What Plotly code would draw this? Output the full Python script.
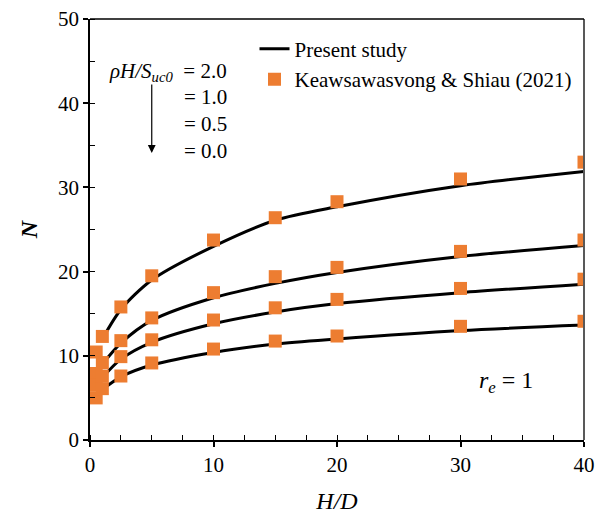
import plotly.graph_objects as go

# Data
x_ref = [0.5, 1, 2.5, 5, 10, 15, 20, 30, 40]
ref_20 = [10.45, 12.3, 15.8, 19.5, 23.75, 26.4, 28.3, 31.0, 33.0]
ref_10 = [7.9, 9.2, 11.8, 14.5, 17.5, 19.4, 20.5, 22.4, 23.75]
ref_05 = [6.5, 7.6, 9.9, 11.9, 14.25, 15.7, 16.7, 18.0, 19.1]
ref_00 = [5.0, 6.1, 7.6, 9.15, 10.8, 11.75, 12.35, 13.5, 14.1]

x_pres = [1, 2.5, 5, 10, 15, 20, 30, 40]
pres_20 = [12.0, 15.5, 19.0, 23.0, 26.1, 27.7, 30.2, 31.9]
pres_10 = [9.0, 11.5, 14.2, 16.9, 18.6, 19.9, 21.8, 23.1]
pres_05 = [7.4, 9.6, 11.6, 13.8, 15.2, 16.2, 17.5, 18.5]
pres_00 = [6.0, 7.5, 8.9, 10.4, 11.4, 12.0, 13.0, 13.65]

FONT = "'Liberation Serif', 'Times New Roman', Times, serif"
ORANGE = "#ED7D31"

fig = go.Figure()
for i, ys in enumerate([pres_20, pres_10, pres_05, pres_00]):
    fig.add_trace(go.Scatter(x=x_pres, y=ys, mode="lines",
                             line=dict(color="black", width=3, shape="spline", smoothing=0.8),
                             name="Present study", showlegend=(i == 0), legendrank=1))
for i, ys in enumerate([ref_20, ref_10, ref_05, ref_00]):
    fig.add_trace(go.Scatter(x=x_ref, y=ys, mode="markers",
                             marker=dict(symbol="square", size=13, color=ORANGE),
                             name="Keawsawasvong & Shiau (2021)", showlegend=(i == 0), legendrank=2))

ann_font = dict(family=FONT, size=21, color="black")
annotations = [
    dict(x=1.38, y=43.7, xref="x", yref="y", xanchor="left", yanchor="middle", showarrow=False,
         text="<i>ρH/S</i><sub><i>uc0</i></sub>  = 2.0", font=ann_font),
    dict(x=7.45, y=40.75, xref="x", yref="y", xanchor="left", yanchor="middle", showarrow=False,
         text="= 1.0", font=ann_font),
    dict(x=7.45, y=37.55, xref="x", yref="y", xanchor="left", yanchor="middle", showarrow=False,
         text="= 0.5", font=ann_font),
    dict(x=7.45, y=34.35, xref="x", yref="y", xanchor="left", yanchor="middle", showarrow=False,
         text="= 0.0", font=ann_font),
    dict(x=5.0, y=34.1, ax=5.0, ay=42.4, xref="x", yref="y", axref="x", ayref="y",
         text="", showarrow=True, arrowhead=2, arrowsize=1.3, arrowwidth=1.2, arrowcolor="black"),
    dict(x=33.7, y=6.9, xref="x", yref="y", showarrow=False,
         text="<i>r</i><sub><i>e</i></sub> = 1", font=dict(family=FONT, size=24, color="black")),
]

fig.update_layout(
    width=604, height=516,
    margin=dict(l=90, r=20, t=19, b=76, autoexpand=False),
    paper_bgcolor="white", plot_bgcolor="white",
    font=dict(family=FONT, size=21, color="black"),
    showlegend=True,
    legend=dict(x=0.333, y=0.977, xanchor="left", yanchor="top", bgcolor="rgba(0,0,0,0)",
                font=dict(family=FONT, size=21, color="black"), itemwidth=30,
                tracegroupgap=0, borderwidth=0),
    annotations=annotations,
    shapes=[dict(type="line", xref="paper", yref="paper", x0=1, x1=1, y0=0, y1=1,
                 line=dict(color="#595959", width=2))],
)

fig.update_xaxes(range=[0, 40], tickvals=[0, 10, 20, 30, 40], ticks="outside", ticklen=5,
                 tickwidth=1.5, tickcolor="black", automargin=False,
                 minor=dict(dtick=2.5, ticks="inside", ticklen=5, tickwidth=1, tickcolor="black"),
                 showline=True, linecolor="black", linewidth=1.5, mirror=False, showgrid=False,
                 zeroline=False, tickfont=dict(family=FONT, size=21),
                 title=dict(text="<i>H/D</i>", font=dict(family=FONT, size=24), standoff=16))
fig.update_yaxes(range=[0, 50], tickvals=[0, 10, 20, 30, 40, 50], ticks="outside", ticklen=5,
                 tickwidth=1.5, tickcolor="black", automargin=False,
                 minor=dict(dtick=5, ticks="inside", ticklen=5, tickwidth=1, tickcolor="black"),
                 showline=True, linecolor="black", linewidth=1.5, showgrid=False, zeroline=False,
                 tickfont=dict(family=FONT, size=21),
                 title=dict(text="<b><i>N</i></b>", font=dict(family=FONT, size=24), standoff=14))
fig.add_shape(type="line", xref="paper", yref="paper", x0=0, x1=1, y0=1, y1=1,
              line=dict(color="black", width=1.5))

fig.write_html("out.html")
